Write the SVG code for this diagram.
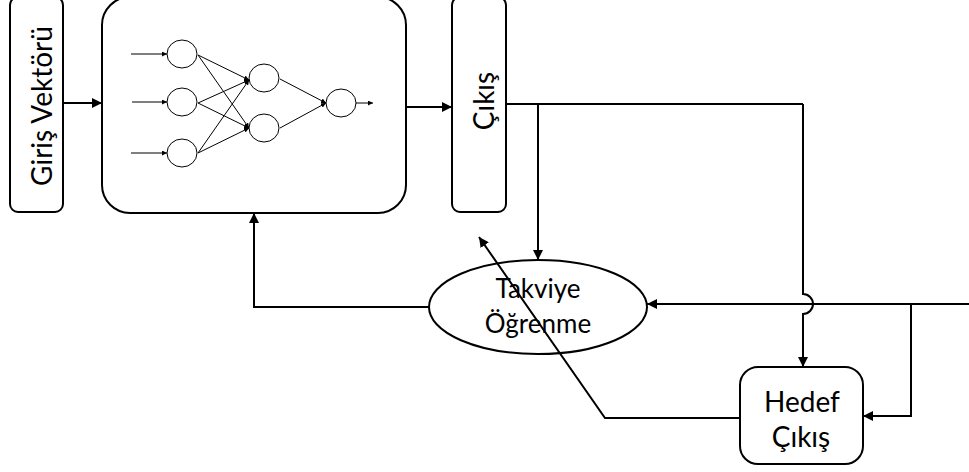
<svg xmlns="http://www.w3.org/2000/svg" width="969" height="472" viewBox="0 0 969 472">
<style>
.box{fill:#fff;stroke:#000;stroke-width:2}
.c{fill:none;stroke:#000;stroke-width:2}
.n{fill:#fff;stroke:#000;stroke-width:1}
.nl{fill:none;stroke:#000;stroke-width:1}
.t{font-family:Lato,"Open Sans",sans-serif;font-size:26px;fill:#000;text-anchor:middle}
.b{font-size:28px}
</style>
<defs>
<marker id="a" viewBox="0 0 10 10" refX="10" refY="5" markerWidth="5" markerHeight="5" markerUnits="strokeWidth" orient="auto"><path d="M0,0L10,5L0,10z" fill="#000"/></marker>
<marker id="s" viewBox="0 0 10 10" refX="10" refY="5" markerWidth="5" markerHeight="5" markerUnits="strokeWidth" orient="auto"><path d="M0,0L10,5L0,10z" fill="#000"/></marker>
</defs>
<g id="giris">
<rect class="box" x="10" y="-3" width="53" height="215" rx="8"/>
<text class="t b" transform="translate(52,106) rotate(-90)">Giriş Vektörü</text>
</g>
<g id="ag">
<rect class="box" x="102" y="-3" width="304" height="216" rx="28"/>
<g>
<line class="nl" x1="131" y1="54" x2="167" y2="54" marker-end="url(#s)"/>
<line class="nl" x1="132" y1="102" x2="167" y2="102" marker-end="url(#s)"/>
<line class="nl" x1="131" y1="153" x2="167" y2="153" marker-end="url(#s)"/>
<line class="nl" x1="198" y1="55" x2="249" y2="80" marker-end="url(#s)"/>
<line class="nl" x1="198" y1="55" x2="249" y2="128" marker-end="url(#s)"/>
<line class="nl" x1="198" y1="103" x2="249" y2="80" marker-end="url(#s)"/>
<line class="nl" x1="198" y1="103" x2="249" y2="128" marker-end="url(#s)"/>
<line class="nl" x1="198" y1="153" x2="249" y2="80" marker-end="url(#s)"/>
<line class="nl" x1="198" y1="153" x2="249" y2="128" marker-end="url(#s)"/>
<line class="nl" x1="280" y1="79" x2="326" y2="103" marker-end="url(#s)"/>
<line class="nl" x1="280" y1="128" x2="326" y2="103" marker-end="url(#s)"/>
<line class="nl" x1="356" y1="103" x2="373" y2="103" marker-end="url(#s)"/>
<ellipse class="n" cx="182" cy="54" rx="15" ry="14"/>
<ellipse class="n" cx="182" cy="102" rx="15" ry="14"/>
<ellipse class="n" cx="182" cy="153" rx="15" ry="14"/>
<ellipse class="n" cx="264" cy="78" rx="15" ry="14"/>
<ellipse class="n" cx="264" cy="128" rx="15" ry="14"/>
<ellipse class="n" cx="341" cy="103" rx="15" ry="14"/>
</g>
</g>
<g id="cikis">
<rect class="box" x="452" y="-3" width="54" height="215" rx="8"/>
<text class="t b" transform="translate(494,101) rotate(-90)">Çıkış</text>
</g>
<g id="takviye">
<ellipse class="box" cx="538" cy="307" rx="109" ry="47"/>
<text class="t" x="538" y="298">Takviye</text>
<text class="t" x="538" y="333">Öğrenme</text>
</g>
<g id="hedef">
<rect class="box" x="740" y="367" width="123" height="97" rx="18"/>
<text class="t b" x="802" y="412">Hedef</text>
<text class="t b" x="801" y="447">Çıkış</text>
</g>
<g id="connectors">
<line class="c" x1="63" y1="103" x2="102" y2="103" marker-end="url(#a)"/>
<line class="c" x1="406" y1="107" x2="452" y2="107" marker-end="url(#a)"/>
<polyline class="c" points="506,104 803,104"/>
<line class="c" x1="538" y1="104" x2="538" y2="260" marker-end="url(#a)"/>
<path class="c" d="M803,104 V294 A10,10 0 0 1 803,314 V367" marker-end="url(#a)"/>
<line class="c" x1="969" y1="304" x2="647" y2="304" marker-end="url(#a)"/>
<polyline class="c" points="911,304 911,416 863,416" marker-end="url(#a)"/>
<polyline class="c" points="429,307 254,307 254,213" marker-end="url(#a)"/>
<polyline class="c" points="740,418 605,418 479,237" marker-end="url(#a)"/>
</g>
</svg>
